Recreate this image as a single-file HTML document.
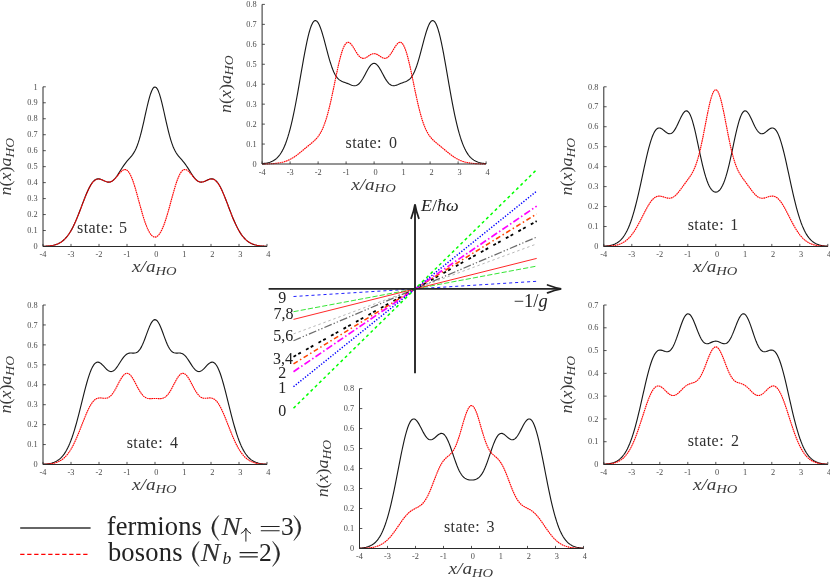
<!DOCTYPE html><html><head><meta charset="utf-8"><title>fig</title><style>
html,body{margin:0;padding:0;background:#fff;}
svg{display:block;will-change:transform}
text{font-family:"Liberation Serif",serif;fill:#2b2b2b}
.tk{font-size:8.3px;fill:#4a4a4a}
.lab{font-size:16px;font-style:italic;fill:#3a3a3a}
.lab .sub{font-size:12.2px}
.lab .up,.lab2 .up{font-style:normal}
.lab2{font-size:17px;font-style:italic;fill:#222}
.st{font-size:16px;fill:#303030}
.num{font-size:16px;fill:#222}
.leg{font-size:25.5px;fill:#222}
.leg.it{font-style:italic}
.leg .lsub{font-size:17.8px}
</style></head><body><svg width="830" height="578" viewBox="0 0 830 578"><g><path d="M262.1,163.62L263.22,163.52L264.34,163.39L265.46,163.24L266.58,163.05L267.7,162.82L268.82,162.54L269.94,162.21L271.06,161.8L272.18,161.32L273.3,160.74L274.42,160.06L275.54,159.26L276.66,158.32L277.78,157.22L278.9,155.94L280.02,154.47L281.14,152.78L282.26,150.86L283.38,148.67L284.5,146.2L285.62,143.44L286.74,140.36L287.86,136.95L288.98,133.19L290.1,129.09L291.22,124.64L292.34,119.84L293.46,114.7L294.58,109.25L295.7,103.51L296.82,97.51L297.94,91.3L299.06,84.93L300.18,78.47L301.3,71.97L302.42,65.53L303.54,59.2L304.66,53.09L305.78,47.28L306.9,41.85L308.02,36.89L309.14,32.48L310.26,28.68L311.38,25.56L312.5,23.17L313.62,21.54L314.74,20.68L315.86,20.61L316.98,21.29L318.1,22.7L319.22,24.78L320.34,27.46L321.46,30.66L322.58,34.28L323.7,38.22L324.82,42.38L325.94,46.64L327.06,50.91L328.18,55.08L329.3,59.06L330.42,62.79L331.54,66.2L332.66,69.25L333.78,71.92L334.9,74.2L336.02,76.1L337.14,77.65L338.26,78.89L339.38,79.86L340.5,80.61L341.62,81.2L342.74,81.69L343.86,82.12L344.98,82.52L346.1,82.94L347.22,83.37L348.34,83.83L349.46,84.3L350.58,84.76L351.7,85.17L352.82,85.5L353.94,85.69L355.06,85.69L356.18,85.48L357.3,85.01L358.42,84.26L359.54,83.22L360.66,81.89L361.78,80.3L362.9,78.49L364.02,76.5L365.14,74.41L366.26,72.29L367.38,70.23L368.5,68.31L369.62,66.61L370.74,65.2L371.86,64.15L372.98,63.51L374.1,63.3L375.22,63.54L376.34,64.21L377.46,65.28L378.58,66.7L379.7,68.42L380.82,70.35L381.94,72.42L383.06,74.54L384.18,76.63L385.3,78.6L386.42,80.41L387.54,81.98L388.66,83.29L389.78,84.31L390.9,85.05L392.02,85.5L393.14,85.7L394.26,85.68L395.38,85.48L396.5,85.15L397.62,84.74L398.74,84.28L399.86,83.8L400.98,83.35L402.1,82.91L403.22,82.5L404.34,82.09L405.46,81.66L406.58,81.17L407.7,80.57L408.82,79.8L409.94,78.82L411.06,77.57L412.18,76L413.3,74.07L414.42,71.77L415.54,69.07L416.66,66L417.78,62.57L418.9,58.82L420.02,54.82L421.14,50.64L422.26,46.37L423.38,42.11L424.5,37.97L425.62,34.04L426.74,30.44L427.86,27.27L428.98,24.63L430.1,22.59L431.22,21.23L432.34,20.59L433.46,20.71L434.58,21.62L435.7,23.3L436.82,25.73L437.94,28.9L439.06,32.73L440.18,37.18L441.3,42.18L442.42,47.63L443.54,53.47L444.66,59.59L445.78,65.93L446.9,72.38L448.02,78.87L449.14,85.34L450.26,91.69L451.38,97.89L452.5,103.87L453.62,109.6L454.74,115.03L455.86,120.15L456.98,124.92L458.1,129.36L459.22,133.44L460.34,137.17L461.46,140.56L462.58,143.62L463.7,146.37L464.82,148.81L465.94,150.98L467.06,152.89L468.18,154.57L469.3,156.03L470.42,157.29L471.54,158.38L472.66,159.31L473.78,160.11L474.9,160.78L476.02,161.35L477.14,161.83L478.26,162.23L479.38,162.56L480.5,162.84L481.62,163.06L482.74,163.25L483.86,163.4L484.98,163.52L486.1,163.62" fill="none" stroke="#181818" stroke-width="1.12" stroke-linejoin="round"/><path d="M262.1,163.95L263.22,163.94L264.34,163.92L265.46,163.9L266.58,163.87L267.7,163.84L268.82,163.81L269.94,163.76L271.06,163.71L272.18,163.64L273.3,163.57L274.42,163.48L275.54,163.37L276.66,163.24L277.78,163.1L278.9,162.93L280.02,162.73L281.14,162.51L282.26,162.25L283.38,161.96L284.5,161.63L285.62,161.27L286.74,160.86L287.86,160.4L288.98,159.9L290.1,159.35L291.22,158.76L292.34,158.12L293.46,157.43L294.58,156.7L295.7,155.92L296.82,155.11L297.94,154.26L299.06,153.39L300.18,152.49L301.3,151.57L302.42,150.65L303.54,149.71L304.66,148.78L305.78,147.85L306.9,146.93L308.02,146.01L309.14,145.1L310.26,144.19L311.38,143.27L312.5,142.32L313.62,141.34L314.74,140.29L315.86,139.16L316.98,137.91L318.1,136.52L319.22,134.95L320.34,133.16L321.46,131.12L322.58,128.79L323.7,126.14L324.82,123.16L325.94,119.82L327.06,116.11L328.18,112.04L329.3,107.62L330.42,102.88L331.54,97.87L332.66,92.63L333.78,87.24L334.9,81.78L336.02,76.34L337.14,71.01L338.26,65.9L339.38,61.09L340.5,56.69L341.62,52.78L342.74,49.43L343.86,46.69L344.98,44.61L346.1,43.18L347.22,42.41L348.34,42.26L349.46,42.68L350.58,43.59L351.7,44.9L352.82,46.52L353.94,48.32L355.06,50.2L356.18,52.06L357.3,53.79L358.42,55.31L359.54,56.56L360.66,57.5L361.78,58.09L362.9,58.35L364.02,58.29L365.14,57.97L366.26,57.43L367.38,56.75L368.5,56L369.62,55.26L370.74,54.6L371.86,54.09L372.98,53.76L374.1,53.66L375.22,53.78L376.34,54.12L377.46,54.64L378.58,55.31L379.7,56.05L380.82,56.79L381.94,57.47L383.06,57.99L384.18,58.3L385.3,58.34L386.42,58.06L387.54,57.45L388.66,56.49L389.78,55.22L390.9,53.69L392.02,51.94L393.14,50.08L394.26,48.2L395.38,46.41L396.5,44.81L397.62,43.52L398.74,42.64L399.86,42.26L400.98,42.44L402.1,43.25L403.22,44.72L404.34,46.84L405.46,49.62L406.58,53.01L407.7,56.95L408.82,61.38L409.94,66.21L411.06,71.34L412.18,76.68L413.3,82.13L414.42,87.58L415.54,92.97L416.66,98.19L417.78,103.19L418.9,107.91L420.02,112.31L421.14,116.35L422.26,120.04L423.38,123.36L424.5,126.32L425.62,128.94L426.74,131.25L427.86,133.28L428.98,135.05L430.1,136.61L431.22,138L432.34,139.23L433.46,140.36L434.58,141.4L435.7,142.38L436.82,143.32L437.94,144.25L439.06,145.16L440.18,146.07L441.3,146.99L442.42,147.91L443.54,148.84L444.66,149.77L445.78,150.7L446.9,151.63L448.02,152.55L449.14,153.44L450.26,154.32L451.38,155.16L452.5,155.97L453.62,156.74L454.74,157.47L455.86,158.16L456.98,158.8L458.1,159.39L459.22,159.93L460.34,160.43L461.46,160.88L462.58,161.29L463.7,161.66L464.82,161.98L465.94,162.27L467.06,162.52L468.18,162.75L469.3,162.94L470.42,163.11L471.54,163.25L472.66,163.38L473.78,163.48L474.9,163.57L476.02,163.65L477.14,163.71L478.26,163.76L479.38,163.81L480.5,163.85L481.62,163.88L482.74,163.9L483.86,163.92L484.98,163.94L486.1,163.95" fill="none" stroke="#ff0000" stroke-width="1.15" stroke-dasharray="1.65 0.55" stroke-linejoin="round"/><path d="M262.1,4.4 V164 H486.1" fill="none" stroke="#2a2a2a" stroke-width="1"/><path d="M262.1,164h2.8M262.1,144.05h2.8M262.1,124.1h2.8M262.1,104.15h2.8M262.1,84.2h2.8M262.1,64.25h2.8M262.1,44.3h2.8M262.1,24.35h2.8M262.1,4.4h2.8M262.1,164v-2.6M290.1,164v-2.6M318.1,164v-2.6M346.1,164v-2.6M374.1,164v-2.6M402.1,164v-2.6M430.1,164v-2.6M458.1,164v-2.6M486.1,164v-2.6" fill="none" stroke="#2a2a2a" stroke-width="0.8"/><text x="256.7" y="166.7" text-anchor="end" class="tk">0</text><text x="256.7" y="146.75" text-anchor="end" class="tk">0.1</text><text x="256.7" y="126.8" text-anchor="end" class="tk">0.2</text><text x="256.7" y="106.85" text-anchor="end" class="tk">0.3</text><text x="256.7" y="86.9" text-anchor="end" class="tk">0.4</text><text x="256.7" y="66.95" text-anchor="end" class="tk">0.5</text><text x="256.7" y="47" text-anchor="end" class="tk">0.6</text><text x="256.7" y="27.05" text-anchor="end" class="tk">0.7</text><text x="256.7" y="7.1" text-anchor="end" class="tk">0.8</text><text x="262.1" y="174.6" text-anchor="middle" class="tk">-4</text><text x="290.1" y="174.6" text-anchor="middle" class="tk">-3</text><text x="318.1" y="174.6" text-anchor="middle" class="tk">-2</text><text x="346.1" y="174.6" text-anchor="middle" class="tk">-1</text><text x="375.5" y="174.6" text-anchor="middle" class="tk">0</text><text x="403.5" y="174.6" text-anchor="middle" class="tk">1</text><text x="431.5" y="174.6" text-anchor="middle" class="tk">2</text><text x="459.5" y="174.6" text-anchor="middle" class="tk">3</text><text x="487.5" y="174.6" text-anchor="middle" class="tk">4</text><text x="351.2" y="189.5" class="lab" textLength="44.5" lengthAdjust="spacingAndGlyphs"><tspan>x/a</tspan><tspan class="sub" dy="2.6">HO</tspan></text><text transform="translate(230.5,84.2) rotate(-90)" x="-28.8" y="0" class="lab" textLength="57.6" lengthAdjust="spacingAndGlyphs"><tspan>n</tspan><tspan class="up">(</tspan><tspan>x</tspan><tspan class="up">)</tspan><tspan>a</tspan><tspan class="sub" dy="2.6">HO</tspan></text><text x="345.5" y="147.8" class="st" textLength="35.9" lengthAdjust="spacing">state:</text><text x="389" y="147.8" class="st">0</text></g>
<g><path d="M43,246.33L44.12,246.28L45.24,246.22L46.36,246.15L47.48,246.07L48.6,245.96L49.72,245.84L50.84,245.69L51.96,245.5L53.08,245.28L54.2,245.02L55.32,244.71L56.44,244.35L57.56,243.92L58.68,243.42L59.8,242.84L60.92,242.17L62.04,241.41L63.16,240.53L64.28,239.54L65.4,238.42L66.52,237.16L67.64,235.76L68.76,234.21L69.88,232.51L71,230.64L72.12,228.62L73.24,226.44L74.36,224.1L75.48,221.62L76.6,219.01L77.72,216.28L78.84,213.46L79.96,210.55L81.08,207.6L82.2,204.63L83.32,201.67L84.44,198.77L85.56,195.94L86.68,193.24L87.8,190.7L88.92,188.34L90.04,186.21L91.16,184.32L92.28,182.7L93.4,181.37L94.52,180.32L95.64,179.57L96.76,179.09L97.88,178.87L99,178.88L100.12,179.09L101.24,179.45L102.36,179.92L103.48,180.45L104.6,180.98L105.72,181.46L106.84,181.84L107.96,182.08L109.08,182.12L110.2,181.95L111.32,181.54L112.44,180.88L113.56,179.98L114.68,178.85L115.8,177.5L116.92,175.99L118.04,174.34L119.16,172.6L120.28,170.81L121.4,169.03L122.52,167.29L123.64,165.62L124.76,164.05L125.88,162.58L127,161.21L128.12,159.91L129.24,158.65L130.36,157.39L131.48,156.05L132.6,154.58L133.72,152.9L134.84,150.95L135.96,148.67L137.08,146L138.2,142.91L139.32,139.39L140.44,135.44L141.56,131.11L142.68,126.44L143.8,121.53L144.92,116.49L146.04,111.43L147.16,106.5L148.28,101.85L149.4,97.61L150.52,93.93L151.64,90.94L152.76,88.73L153.88,87.38L155,86.94L156.12,87.44L157.24,88.84L158.36,91.1L159.48,94.15L160.6,97.86L161.72,102.13L162.84,106.81L163.96,111.75L165.08,116.81L166.2,121.85L167.32,126.74L168.44,131.39L169.56,135.7L170.68,139.62L171.8,143.12L172.92,146.18L174.04,148.82L175.16,151.09L176.28,153.02L177.4,154.68L178.52,156.14L179.64,157.47L180.76,158.73L181.88,159.99L183,161.29L184.12,162.67L185.24,164.15L186.36,165.73L187.48,167.4L188.6,169.14L189.72,170.92L190.84,172.71L191.96,174.44L193.08,176.09L194.2,177.59L195.32,178.92L196.44,180.04L197.56,180.93L198.68,181.57L199.8,181.97L200.92,182.12L202.04,182.07L203.16,181.82L204.28,181.44L205.4,180.95L206.52,180.42L207.64,179.89L208.76,179.43L209.88,179.07L211,178.87L212.12,178.87L213.24,179.11L214.36,179.6L215.48,180.38L216.6,181.44L217.72,182.8L218.84,184.43L219.96,186.33L221.08,188.48L222.2,190.85L223.32,193.41L224.44,196.12L225.56,198.95L226.68,201.86L227.8,204.82L228.92,207.79L230.04,210.74L231.16,213.63L232.28,216.46L233.4,219.18L234.52,221.78L235.64,224.25L236.76,226.58L237.88,228.75L239,230.76L240.12,232.62L241.24,234.31L242.36,235.85L243.48,237.24L244.6,238.49L245.72,239.6L246.84,240.59L247.96,241.46L249.08,242.22L250.2,242.88L251.32,243.45L252.44,243.95L253.56,244.37L254.68,244.73L255.8,245.04L256.92,245.3L258.04,245.51L259.16,245.7L260.28,245.85L261.4,245.97L262.52,246.07L263.64,246.16L264.76,246.23L265.88,246.28L267,246.33" fill="none" stroke="#181818" stroke-width="1.12" stroke-linejoin="round"/><path d="M43,246.33L44.12,246.28L45.24,246.22L46.36,246.16L47.48,246.07L48.6,245.97L49.72,245.84L50.84,245.69L51.96,245.51L53.08,245.29L54.2,245.03L55.32,244.72L56.44,244.35L57.56,243.93L58.68,243.43L59.8,242.85L60.92,242.19L62.04,241.42L63.16,240.55L64.28,239.56L65.4,238.44L66.52,237.19L67.64,235.79L68.76,234.25L69.88,232.55L71,230.69L72.12,228.67L73.24,226.5L74.36,224.17L75.48,221.7L76.6,219.1L77.72,216.37L78.84,213.55L79.96,210.66L81.08,207.72L82.2,204.76L83.32,201.81L84.44,198.91L85.56,196.09L86.68,193.4L87.8,190.86L88.92,188.51L90.04,186.38L91.16,184.49L92.28,182.88L93.4,181.54L94.52,180.49L95.64,179.73L96.76,179.24L97.88,179.01L99,179.01L100.12,179.21L101.24,179.56L102.36,180.01L103.48,180.52L104.6,181.03L105.72,181.49L106.84,181.84L107.96,182.06L109.08,182.09L110.2,181.92L111.32,181.52L112.44,180.89L113.56,180.05L114.68,179L115.8,177.8L116.92,176.48L118.04,175.11L119.16,173.74L120.28,172.45L121.4,171.31L122.52,170.4L123.64,169.77L124.76,169.5L125.88,169.62L127,170.19L128.12,171.22L129.24,172.72L130.36,174.7L131.48,177.13L132.6,179.98L133.72,183.21L134.84,186.75L135.96,190.55L137.08,194.53L138.2,198.63L139.32,202.77L140.44,206.89L141.56,210.91L142.68,214.78L143.8,218.44L144.92,221.85L146.04,224.97L147.16,227.77L148.28,230.23L149.4,232.33L150.52,234.06L151.64,235.4L152.76,236.36L153.88,236.93L155,237.12L156.12,236.91L157.24,236.31L158.36,235.33L159.48,233.96L160.6,232.21L161.72,230.09L162.84,227.61L163.96,224.78L165.08,221.64L166.2,218.22L167.32,214.54L168.44,210.66L169.56,206.63L170.68,202.51L171.8,198.37L172.92,194.28L174.04,190.31L175.16,186.52L176.28,183L177.4,179.8L178.52,176.97L179.64,174.57L180.76,172.62L181.88,171.14L183,170.14L184.12,169.6L185.24,169.5L186.36,169.8L187.48,170.45L188.6,171.38L189.72,172.53L190.84,173.82L191.96,175.19L193.08,176.57L194.2,177.88L195.32,179.07L196.44,180.11L197.56,180.94L198.68,181.55L199.8,181.94L200.92,182.1L202.04,182.05L203.16,181.83L204.28,181.46L205.4,181L206.52,180.48L207.64,179.98L208.76,179.53L209.88,179.19L211,179.01L212.12,179.02L213.24,179.27L214.36,179.77L215.48,180.55L216.6,181.62L217.72,182.97L218.84,184.6L219.96,186.5L221.08,188.65L222.2,191.01L223.32,193.56L224.44,196.26L225.56,199.09L226.68,201.99L227.8,204.94L228.92,207.9L230.04,210.84L231.16,213.73L232.28,216.55L233.4,219.26L234.52,221.86L235.64,224.32L236.76,226.64L237.88,228.8L239,230.81L240.12,232.66L241.24,234.35L242.36,235.89L243.48,237.27L244.6,238.52L245.72,239.62L246.84,240.61L247.96,241.47L249.08,242.23L250.2,242.89L251.32,243.46L252.44,243.96L253.56,244.38L254.68,244.74L255.8,245.04L256.92,245.3L258.04,245.52L259.16,245.7L260.28,245.85L261.4,245.97L262.52,246.08L263.64,246.16L264.76,246.23L265.88,246.28L267,246.33" fill="none" stroke="#ff0000" stroke-width="1.15" stroke-dasharray="1.65 0.55" stroke-linejoin="round"/><path d="M43,86.8 V246.5 H267" fill="none" stroke="#2a2a2a" stroke-width="1"/><path d="M43,246.5h2.8M43,230.53h2.8M43,214.56h2.8M43,198.59h2.8M43,182.62h2.8M43,166.65h2.8M43,150.68h2.8M43,134.71h2.8M43,118.74h2.8M43,102.77h2.8M43,86.8h2.8M43,246.5v-2.6M71,246.5v-2.6M99,246.5v-2.6M127,246.5v-2.6M155,246.5v-2.6M183,246.5v-2.6M211,246.5v-2.6M239,246.5v-2.6M267,246.5v-2.6" fill="none" stroke="#2a2a2a" stroke-width="0.8"/><text x="37.6" y="249.2" text-anchor="end" class="tk">0</text><text x="37.6" y="233.23" text-anchor="end" class="tk">0.1</text><text x="37.6" y="217.26" text-anchor="end" class="tk">0.2</text><text x="37.6" y="201.29" text-anchor="end" class="tk">0.3</text><text x="37.6" y="185.32" text-anchor="end" class="tk">0.4</text><text x="37.6" y="169.35" text-anchor="end" class="tk">0.5</text><text x="37.6" y="153.38" text-anchor="end" class="tk">0.6</text><text x="37.6" y="137.41" text-anchor="end" class="tk">0.7</text><text x="37.6" y="121.44" text-anchor="end" class="tk">0.8</text><text x="37.6" y="105.47" text-anchor="end" class="tk">0.9</text><text x="37.6" y="89.5" text-anchor="end" class="tk">1</text><text x="43" y="257.1" text-anchor="middle" class="tk">-4</text><text x="71" y="257.1" text-anchor="middle" class="tk">-3</text><text x="99" y="257.1" text-anchor="middle" class="tk">-2</text><text x="127" y="257.1" text-anchor="middle" class="tk">-1</text><text x="156.4" y="257.1" text-anchor="middle" class="tk">0</text><text x="184.4" y="257.1" text-anchor="middle" class="tk">1</text><text x="212.4" y="257.1" text-anchor="middle" class="tk">2</text><text x="240.4" y="257.1" text-anchor="middle" class="tk">3</text><text x="268.4" y="257.1" text-anchor="middle" class="tk">4</text><text x="132.1" y="272" class="lab" textLength="44.5" lengthAdjust="spacingAndGlyphs"><tspan>x/a</tspan><tspan class="sub" dy="2.6">HO</tspan></text><text transform="translate(11.4,166.65) rotate(-90)" x="-28.8" y="0" class="lab" textLength="57.6" lengthAdjust="spacingAndGlyphs"><tspan>n</tspan><tspan class="up">(</tspan><tspan>x</tspan><tspan class="up">)</tspan><tspan>a</tspan><tspan class="sub" dy="2.6">HO</tspan></text><text x="77" y="233.4" class="st" textLength="35.9" lengthAdjust="spacing">state:</text><text x="119" y="233.4" class="st">5</text></g>
<g><path d="M43,464.23L44.12,464.16L45.24,464.08L46.36,463.97L47.48,463.84L48.6,463.68L49.72,463.49L50.84,463.26L51.96,462.98L53.08,462.64L54.2,462.24L55.32,461.77L56.44,461.21L57.56,460.56L58.68,459.8L59.8,458.91L60.92,457.89L62.04,456.72L63.16,455.38L64.28,453.87L65.4,452.16L66.52,450.24L67.64,448.1L68.76,445.74L69.88,443.13L71,440.29L72.12,437.2L73.24,433.87L74.36,430.3L75.48,426.52L76.6,422.53L77.72,418.36L78.84,414.05L79.96,409.62L81.08,405.11L82.2,400.59L83.32,396.08L84.44,391.65L85.56,387.36L86.68,383.25L87.8,379.39L88.92,375.83L90.04,372.61L91.16,369.78L92.28,367.38L93.4,365.42L94.52,363.92L95.64,362.89L96.76,362.3L97.88,362.14L99,362.36L100.12,362.92L101.24,363.76L102.36,364.8L103.48,365.97L104.6,367.2L105.72,368.39L106.84,369.48L107.96,370.4L109.08,371.09L110.2,371.49L111.32,371.57L112.44,371.31L113.56,370.72L114.68,369.81L115.8,368.61L116.92,367.17L118.04,365.55L119.16,363.81L120.28,362.03L121.4,360.28L122.52,358.62L123.64,357.13L124.76,355.84L125.88,354.8L127,354.01L128.12,353.47L129.24,353.16L130.36,353.03L131.48,353.03L132.6,353.09L133.72,353.13L134.84,353.06L135.96,352.8L137.08,352.27L138.2,351.43L139.32,350.21L140.44,348.61L141.56,346.62L142.68,344.27L143.8,341.61L144.92,338.71L146.04,335.68L147.16,332.6L148.28,329.62L149.4,326.84L150.52,324.38L151.64,322.35L152.76,320.83L153.88,319.91L155,319.6L156.12,319.95L157.24,320.91L158.36,322.46L159.48,324.52L160.6,327L161.72,329.8L162.84,332.79L163.96,335.87L165.08,338.9L166.2,341.78L167.32,344.43L168.44,346.76L169.56,348.72L170.68,350.3L171.8,351.49L172.92,352.31L174.04,352.82L175.16,353.06L176.28,353.13L177.4,353.09L178.52,353.03L179.64,353.04L180.76,353.17L181.88,353.5L183,354.05L184.12,354.86L185.24,355.92L186.36,357.22L187.48,358.72L188.6,360.38L189.72,362.14L190.84,363.92L191.96,365.65L193.08,367.27L194.2,368.7L195.32,369.88L196.44,370.77L197.56,371.34L198.68,371.57L199.8,371.47L200.92,371.05L202.04,370.35L203.16,369.42L204.28,368.32L205.4,367.12L206.52,365.9L207.64,364.73L208.76,363.7L209.88,362.88L211,362.34L212.12,362.14L213.24,362.32L214.36,362.94L215.48,364L216.6,365.53L217.72,367.51L218.84,369.95L219.96,372.8L221.08,376.04L222.2,379.62L223.32,383.5L224.44,387.62L225.56,391.92L226.68,396.36L227.8,400.87L228.92,405.4L230.04,409.9L231.16,414.32L232.28,418.63L233.4,422.78L234.52,426.76L235.64,430.53L236.76,434.08L237.88,437.4L239,440.47L240.12,443.3L241.24,445.89L242.36,448.24L243.48,450.37L244.6,452.27L245.72,453.97L246.84,455.47L247.96,456.8L249.08,457.96L250.2,458.97L251.32,459.85L252.44,460.6L253.56,461.25L254.68,461.8L255.8,462.27L256.92,462.66L258.04,463L259.16,463.27L260.28,463.5L261.4,463.69L262.52,463.85L263.64,463.98L264.76,464.08L265.88,464.17L267,464.24" fill="none" stroke="#181818" stroke-width="1.12" stroke-linejoin="round"/><path d="M43,464.33L44.12,464.29L45.24,464.23L46.36,464.17L47.48,464.08L48.6,463.98L49.72,463.86L50.84,463.71L51.96,463.54L53.08,463.32L54.2,463.07L55.32,462.77L56.44,462.42L57.56,462.01L58.68,461.52L59.8,460.97L60.92,460.32L62.04,459.58L63.16,458.73L64.28,457.77L65.4,456.69L66.52,455.48L67.64,454.13L68.76,452.63L69.88,450.98L71,449.18L72.12,447.23L73.24,445.12L74.36,442.86L75.48,440.47L76.6,437.94L77.72,435.3L78.84,432.57L79.96,429.76L81.08,426.9L82.2,424.03L83.32,421.16L84.44,418.34L85.56,415.6L86.68,412.96L87.8,410.48L88.92,408.17L90.04,406.06L91.16,404.18L92.28,402.55L93.4,401.17L94.52,400.05L95.64,399.19L96.76,398.57L97.88,398.17L99,397.97L100.12,397.91L101.24,397.96L102.36,398.08L103.48,398.2L104.6,398.27L105.72,398.25L106.84,398.08L107.96,397.72L109.08,397.13L110.2,396.3L111.32,395.21L112.44,393.86L113.56,392.27L114.68,390.46L115.8,388.48L116.92,386.38L118.04,384.23L119.16,382.09L120.28,380.04L121.4,378.14L122.52,376.48L123.64,375.11L124.76,374.09L125.88,373.46L127,373.24L128.12,373.45L129.24,374.07L130.36,375.08L131.48,376.45L132.6,378.11L133.72,380.01L134.84,382.07L135.96,384.22L137.08,386.38L138.2,388.49L139.32,390.47L140.44,392.28L141.56,393.88L142.68,395.24L143.8,396.34L144.92,397.2L146.04,397.82L147.16,398.24L148.28,398.48L149.4,398.6L150.52,398.62L151.64,398.59L152.76,398.54L153.88,398.5L155,398.49L156.12,398.5L157.24,398.54L158.36,398.59L159.48,398.62L160.6,398.59L161.72,398.47L162.84,398.22L163.96,397.79L165.08,397.15L166.2,396.28L167.32,395.16L168.44,393.79L169.56,392.18L170.68,390.35L171.8,388.36L172.92,386.25L174.04,384.09L175.16,381.94L176.28,379.88L177.4,378L178.52,376.35L179.64,375.01L180.76,374.02L181.88,373.42L183,373.24L184.12,373.48L185.24,374.14L186.36,375.19L187.48,376.57L188.6,378.25L189.72,380.16L190.84,382.22L191.96,384.37L193.08,386.52L194.2,388.61L195.32,390.58L196.44,392.37L197.56,393.95L198.68,395.29L199.8,396.36L200.92,397.18L202.04,397.75L203.16,398.09L204.28,398.25L205.4,398.27L206.52,398.19L207.64,398.07L208.76,397.96L209.88,397.91L211,397.97L212.12,398.19L213.24,398.6L214.36,399.24L215.48,400.12L216.6,401.25L217.72,402.64L218.84,404.29L219.96,406.19L221.08,408.31L222.2,410.63L223.32,413.12L224.44,415.76L225.56,418.51L226.68,421.34L227.8,424.21L228.92,427.08L230.04,429.94L231.16,432.74L232.28,435.47L233.4,438.1L234.52,440.62L235.64,443.01L236.76,445.26L237.88,447.35L239,449.3L240.12,451.09L241.24,452.73L242.36,454.22L243.48,455.56L244.6,456.76L245.72,457.84L246.84,458.79L247.96,459.63L249.08,460.36L250.2,461L251.32,461.56L252.44,462.03L253.56,462.44L254.68,462.79L255.8,463.09L256.92,463.34L258.04,463.55L259.16,463.72L260.28,463.87L261.4,463.99L262.52,464.09L263.64,464.17L264.76,464.24L265.88,464.29L267,464.33" fill="none" stroke="#ff0000" stroke-width="1.15" stroke-dasharray="1.65 0.55" stroke-linejoin="round"/><path d="M43,305 V464.5 H267" fill="none" stroke="#2a2a2a" stroke-width="1"/><path d="M43,464.5h2.8M43,444.56h2.8M43,424.62h2.8M43,404.69h2.8M43,384.75h2.8M43,364.81h2.8M43,344.88h2.8M43,324.94h2.8M43,305h2.8M43,464.5v-2.6M71,464.5v-2.6M99,464.5v-2.6M127,464.5v-2.6M155,464.5v-2.6M183,464.5v-2.6M211,464.5v-2.6M239,464.5v-2.6M267,464.5v-2.6" fill="none" stroke="#2a2a2a" stroke-width="0.8"/><text x="37.6" y="467.2" text-anchor="end" class="tk">0</text><text x="37.6" y="447.26" text-anchor="end" class="tk">0.1</text><text x="37.6" y="427.32" text-anchor="end" class="tk">0.2</text><text x="37.6" y="407.39" text-anchor="end" class="tk">0.3</text><text x="37.6" y="387.45" text-anchor="end" class="tk">0.4</text><text x="37.6" y="367.51" text-anchor="end" class="tk">0.5</text><text x="37.6" y="347.57" text-anchor="end" class="tk">0.6</text><text x="37.6" y="327.64" text-anchor="end" class="tk">0.7</text><text x="37.6" y="307.7" text-anchor="end" class="tk">0.8</text><text x="43" y="475.1" text-anchor="middle" class="tk">-4</text><text x="71" y="475.1" text-anchor="middle" class="tk">-3</text><text x="99" y="475.1" text-anchor="middle" class="tk">-2</text><text x="127" y="475.1" text-anchor="middle" class="tk">-1</text><text x="156.4" y="475.1" text-anchor="middle" class="tk">0</text><text x="184.4" y="475.1" text-anchor="middle" class="tk">1</text><text x="212.4" y="475.1" text-anchor="middle" class="tk">2</text><text x="240.4" y="475.1" text-anchor="middle" class="tk">3</text><text x="268.4" y="475.1" text-anchor="middle" class="tk">4</text><text x="132.1" y="490" class="lab" textLength="44.5" lengthAdjust="spacingAndGlyphs"><tspan>x/a</tspan><tspan class="sub" dy="2.6">HO</tspan></text><text transform="translate(11.4,384.75) rotate(-90)" x="-28.8" y="0" class="lab" textLength="57.6" lengthAdjust="spacingAndGlyphs"><tspan>n</tspan><tspan class="up">(</tspan><tspan>x</tspan><tspan class="up">)</tspan><tspan>a</tspan><tspan class="sub" dy="2.6">HO</tspan></text><text x="126.7" y="448.1" class="st" textLength="35.9" lengthAdjust="spacing">state:</text><text x="169.9" y="448.1" class="st">4</text></g>
<g><path d="M603.8,246.19L604.92,246.11L606.04,246.02L607.16,245.89L608.28,245.74L609.4,245.56L610.52,245.34L611.64,245.07L612.76,244.75L613.88,244.37L615,243.91L616.12,243.37L617.24,242.73L618.36,241.98L619.48,241.1L620.6,240.09L621.72,238.92L622.84,237.57L623.96,236.04L625.08,234.3L626.2,232.34L627.32,230.14L628.44,227.69L629.56,224.97L630.68,221.98L631.8,218.72L632.92,215.17L634.04,211.35L635.16,207.26L636.28,202.92L637.4,198.34L638.52,193.56L639.64,188.6L640.76,183.52L641.88,178.34L643,173.14L644.12,167.96L645.24,162.87L646.36,157.92L647.48,153.19L648.6,148.73L649.72,144.6L650.84,140.86L651.96,137.56L653.08,134.72L654.2,132.38L655.32,130.55L656.44,129.22L657.56,128.38L658.68,128L659.8,128.02L660.92,128.38L662.04,129.02L663.16,129.85L664.28,130.78L665.4,131.72L666.52,132.57L667.64,133.25L668.76,133.68L669.88,133.8L671,133.55L672.12,132.91L673.24,131.86L674.36,130.42L675.48,128.63L676.6,126.55L677.72,124.25L678.84,121.82L679.96,119.39L681.08,117.05L682.2,114.94L683.32,113.16L684.44,111.83L685.56,111.04L686.68,110.87L687.8,111.38L688.92,112.59L690.04,114.52L691.16,117.15L692.28,120.43L693.4,124.31L694.52,128.68L695.64,133.46L696.76,138.53L697.88,143.78L699,149.09L700.12,154.35L701.24,159.47L702.36,164.35L703.48,168.92L704.6,173.12L705.72,176.91L706.84,180.27L707.96,183.19L709.08,185.67L710.2,187.71L711.32,189.35L712.44,190.59L713.56,191.46L714.68,191.97L715.8,192.13L716.92,191.95L718.04,191.41L719.16,190.52L720.28,189.26L721.4,187.6L722.52,185.52L723.64,183.02L724.76,180.08L725.88,176.69L727,172.87L728.12,168.64L729.24,164.05L730.36,159.16L731.48,154.03L732.6,148.76L733.72,143.44L734.84,138.2L735.96,133.15L737.08,128.39L738.2,124.05L739.32,120.21L740.44,116.97L741.56,114.38L742.68,112.49L743.8,111.32L744.92,110.86L746.04,111.07L747.16,111.9L748.28,113.26L749.4,115.06L750.52,117.19L751.64,119.54L752.76,121.98L753.88,124.4L755,126.69L756.12,128.76L757.24,130.52L758.36,131.94L759.48,132.96L760.6,133.58L761.72,133.8L762.84,133.67L763.96,133.22L765.08,132.52L766.2,131.66L767.32,130.72L768.44,129.8L769.56,128.98L770.68,128.35L771.8,128L772.92,128.01L774.04,128.42L775.16,129.29L776.28,130.65L777.4,132.51L778.52,134.88L779.64,137.75L780.76,141.08L781.88,144.85L783,149L784.12,153.47L785.24,158.22L786.36,163.18L787.48,168.28L788.6,173.47L789.72,178.67L790.84,183.84L791.96,188.92L793.08,193.86L794.2,198.63L795.32,203.2L796.44,207.52L797.56,211.6L798.68,215.4L799.8,218.93L800.92,222.18L802.04,225.15L803.16,227.85L804.28,230.28L805.4,232.47L806.52,234.42L807.64,236.14L808.76,237.66L809.88,239L811,240.16L812.12,241.16L813.24,242.03L814.36,242.77L815.48,243.4L816.6,243.94L817.72,244.39L818.84,244.77L819.96,245.09L821.08,245.36L822.2,245.57L823.32,245.75L824.44,245.9L825.56,246.02L826.68,246.12L827.8,246.2" fill="none" stroke="#181818" stroke-width="1.12" stroke-linejoin="round"/><path d="M603.8,246.37L604.92,246.34L606.04,246.29L607.16,246.24L608.28,246.18L609.4,246.1L610.52,246.01L611.64,245.89L612.76,245.76L613.88,245.59L615,245.4L616.12,245.17L617.24,244.9L618.36,244.58L619.48,244.21L620.6,243.78L621.72,243.28L622.84,242.71L623.96,242.06L625.08,241.32L626.2,240.49L627.32,239.55L628.44,238.51L629.56,237.36L630.68,236.09L631.8,234.7L632.92,233.19L634.04,231.57L635.16,229.83L636.28,227.99L637.4,226.05L638.52,224.01L639.64,221.91L640.76,219.75L641.88,217.55L643,215.34L644.12,213.14L645.24,210.98L646.36,208.87L647.48,206.86L648.6,204.97L649.72,203.21L650.84,201.62L651.96,200.21L653.08,199L654.2,198.01L655.32,197.22L656.44,196.65L657.56,196.28L658.68,196.1L659.8,196.1L660.92,196.24L662.04,196.49L663.16,196.81L664.28,197.18L665.4,197.54L666.52,197.87L667.64,198.11L668.76,198.24L669.88,198.22L671,198.03L672.12,197.67L673.24,197.11L674.36,196.36L675.48,195.43L676.6,194.33L677.72,193.09L678.84,191.73L679.96,190.28L681.08,188.78L682.2,187.24L683.32,185.7L684.44,184.17L685.56,182.65L686.68,181.13L687.8,179.62L688.92,178.07L690.04,176.45L691.16,174.71L692.28,172.8L693.4,170.65L694.52,168.21L695.64,165.43L696.76,162.25L697.88,158.64L699,154.59L700.12,150.1L701.24,145.19L702.36,139.92L703.48,134.35L704.6,128.59L705.72,122.76L706.84,116.98L707.96,111.4L709.08,106.18L710.2,101.46L711.32,97.39L712.44,94.08L713.56,91.65L714.68,90.17L715.8,89.7L716.92,90.24L718.04,91.78L719.16,94.26L720.28,97.62L721.4,101.74L722.52,106.5L723.64,111.74L724.76,117.34L725.88,123.12L727,128.96L728.12,134.71L729.24,140.26L730.36,145.51L731.48,150.39L732.6,154.86L733.72,158.88L734.84,162.46L735.96,165.61L737.08,168.37L738.2,170.79L739.32,172.92L740.44,174.82L741.56,176.55L742.68,178.17L743.8,179.71L744.92,181.23L746.04,182.74L747.16,184.26L748.28,185.8L749.4,187.34L750.52,188.87L751.64,190.38L752.76,191.82L753.88,193.17L755,194.4L756.12,195.49L757.24,196.41L758.36,197.15L759.48,197.7L760.6,198.05L761.72,198.22L762.84,198.23L763.96,198.1L765.08,197.85L766.2,197.52L767.32,197.16L768.44,196.79L769.56,196.47L770.68,196.22L771.8,196.09L772.92,196.11L774.04,196.3L775.16,196.68L776.28,197.26L777.4,198.06L778.52,199.07L779.64,200.3L780.76,201.71L781.88,203.32L783,205.08L784.12,206.98L785.24,209L786.36,211.11L787.48,213.28L788.6,215.48L789.72,217.69L790.84,219.89L791.96,222.04L793.08,224.14L794.2,226.17L795.32,228.11L796.44,229.95L797.56,231.68L798.68,233.29L799.8,234.79L800.92,236.17L802.04,237.43L803.16,238.58L804.28,239.61L805.4,240.54L806.52,241.37L807.64,242.1L808.76,242.75L809.88,243.31L811,243.81L812.12,244.23L813.24,244.6L814.36,244.92L815.48,245.19L816.6,245.41L817.72,245.61L818.84,245.77L819.96,245.9L821.08,246.01L822.2,246.11L823.32,246.18L824.44,246.25L825.56,246.3L826.68,246.34L827.8,246.37" fill="none" stroke="#ff0000" stroke-width="1.15" stroke-dasharray="1.65 0.55" stroke-linejoin="round"/><path d="M603.8,86.8 V246.5 H827.8" fill="none" stroke="#2a2a2a" stroke-width="1"/><path d="M603.8,246.5h2.8M603.8,226.54h2.8M603.8,206.57h2.8M603.8,186.61h2.8M603.8,166.65h2.8M603.8,146.69h2.8M603.8,126.72h2.8M603.8,106.76h2.8M603.8,86.8h2.8M603.8,246.5v-2.6M631.8,246.5v-2.6M659.8,246.5v-2.6M687.8,246.5v-2.6M715.8,246.5v-2.6M743.8,246.5v-2.6M771.8,246.5v-2.6M799.8,246.5v-2.6M827.8,246.5v-2.6" fill="none" stroke="#2a2a2a" stroke-width="0.8"/><text x="598.4" y="249.2" text-anchor="end" class="tk">0</text><text x="598.4" y="229.24" text-anchor="end" class="tk">0.1</text><text x="598.4" y="209.27" text-anchor="end" class="tk">0.2</text><text x="598.4" y="189.31" text-anchor="end" class="tk">0.3</text><text x="598.4" y="169.35" text-anchor="end" class="tk">0.4</text><text x="598.4" y="149.39" text-anchor="end" class="tk">0.5</text><text x="598.4" y="129.42" text-anchor="end" class="tk">0.6</text><text x="598.4" y="109.46" text-anchor="end" class="tk">0.7</text><text x="598.4" y="89.5" text-anchor="end" class="tk">0.8</text><text x="603.8" y="257.1" text-anchor="middle" class="tk">-4</text><text x="631.8" y="257.1" text-anchor="middle" class="tk">-3</text><text x="659.8" y="257.1" text-anchor="middle" class="tk">-2</text><text x="687.8" y="257.1" text-anchor="middle" class="tk">-1</text><text x="717.2" y="257.1" text-anchor="middle" class="tk">0</text><text x="745.2" y="257.1" text-anchor="middle" class="tk">1</text><text x="773.2" y="257.1" text-anchor="middle" class="tk">2</text><text x="801.2" y="257.1" text-anchor="middle" class="tk">3</text><text x="829.2" y="257.1" text-anchor="middle" class="tk">4</text><text x="692.9" y="272" class="lab" textLength="44.5" lengthAdjust="spacingAndGlyphs"><tspan>x/a</tspan><tspan class="sub" dy="2.6">HO</tspan></text><text transform="translate(572.2,166.65) rotate(-90)" x="-28.8" y="0" class="lab" textLength="57.6" lengthAdjust="spacingAndGlyphs"><tspan>n</tspan><tspan class="up">(</tspan><tspan>x</tspan><tspan class="up">)</tspan><tspan>a</tspan><tspan class="sub" dy="2.6">HO</tspan></text><text x="687.7" y="230" class="st" textLength="35.9" lengthAdjust="spacing">state:</text><text x="730.2" y="230" class="st">1</text></g>
<g><path d="M603.8,464.21L604.92,464.13L606.04,464.04L607.16,463.92L608.28,463.78L609.4,463.61L610.52,463.39L611.64,463.14L612.76,462.83L613.88,462.47L615,462.03L616.12,461.51L617.24,460.9L618.36,460.19L619.48,459.35L620.6,458.38L621.72,457.27L622.84,455.99L623.96,454.52L625.08,452.86L626.2,450.99L627.32,448.89L628.44,446.56L629.56,443.97L630.68,441.11L631.8,438L632.92,434.62L634.04,430.97L635.16,427.07L636.28,422.92L637.4,418.56L638.52,413.99L639.64,409.26L640.76,404.41L641.88,399.47L643,394.49L644.12,389.54L645.24,384.67L646.36,379.93L647.48,375.39L648.6,371.1L649.72,367.12L650.84,363.5L651.96,360.28L653.08,357.49L654.2,355.16L655.32,353.28L656.44,351.86L657.56,350.87L658.68,350.28L659.8,350.04L660.92,350.08L662.04,350.33L663.16,350.71L664.28,351.13L665.4,351.5L666.52,351.72L667.64,351.71L668.76,351.4L669.88,350.74L671,349.66L672.12,348.16L673.24,346.22L674.36,343.88L675.48,341.16L676.6,338.15L677.72,334.92L678.84,331.57L679.96,328.21L681.08,324.97L682.2,321.96L683.32,319.28L684.44,317.05L685.56,315.35L686.68,314.24L687.8,313.76L688.92,313.93L690.04,314.72L691.16,316.09L692.28,317.98L693.4,320.3L694.52,322.94L695.64,325.78L696.76,328.7L697.88,331.58L699,334.3L700.12,336.79L701.24,338.94L702.36,340.71L703.48,342.07L704.6,343.02L705.72,343.56L706.84,343.76L707.96,343.66L709.08,343.34L710.2,342.88L711.32,342.37L712.44,341.88L713.56,341.48L714.68,341.22L715.8,341.13L716.92,341.23L718.04,341.5L719.16,341.91L720.28,342.4L721.4,342.91L722.52,343.36L723.64,343.67L724.76,343.75L725.88,343.54L727,342.97L728.12,342L729.24,340.61L730.36,338.82L731.48,336.64L732.6,334.14L733.72,331.4L734.84,328.51L735.96,325.6L737.08,322.77L738.2,320.15L739.32,317.85L740.44,315.99L741.56,314.65L742.68,313.9L743.8,313.78L744.92,314.29L746.04,315.44L747.16,317.18L748.28,319.44L749.4,322.14L750.52,325.17L751.64,328.42L752.76,331.78L753.88,335.12L755,338.35L756.12,341.34L757.24,344.03L758.36,346.36L759.48,348.26L760.6,349.74L761.72,350.79L762.84,351.43L763.96,351.72L765.08,351.71L766.2,351.48L767.32,351.11L768.44,350.69L769.56,350.31L770.68,350.07L771.8,350.05L772.92,350.31L774.04,350.92L775.16,351.94L776.28,353.39L777.4,355.29L778.52,357.66L779.64,360.47L780.76,363.72L781.88,367.36L783,371.36L784.12,375.67L785.24,380.22L786.36,384.97L787.48,389.85L788.6,394.81L789.72,399.78L790.84,404.71L791.96,409.56L793.08,414.28L794.2,418.84L795.32,423.19L796.44,427.32L797.56,431.21L798.68,434.84L799.8,438.2L800.92,441.3L802.04,444.13L803.16,446.71L804.28,449.03L805.4,451.12L806.52,452.97L807.64,454.62L808.76,456.07L809.88,457.34L811,458.45L812.12,459.41L813.24,460.23L814.36,460.94L815.48,461.55L816.6,462.06L817.72,462.49L818.84,462.85L819.96,463.16L821.08,463.41L822.2,463.62L823.32,463.79L824.44,463.93L825.56,464.04L826.68,464.14L827.8,464.21" fill="none" stroke="#181818" stroke-width="1.12" stroke-linejoin="round"/><path d="M603.8,464.29L604.92,464.24L606.04,464.17L607.16,464.09L608.28,463.99L609.4,463.87L610.52,463.72L611.64,463.54L612.76,463.32L613.88,463.07L615,462.76L616.12,462.39L617.24,461.96L618.36,461.46L619.48,460.87L620.6,460.19L621.72,459.4L622.84,458.5L623.96,457.47L625.08,456.3L626.2,454.98L627.32,453.5L628.44,451.85L629.56,450.03L630.68,448.02L631.8,445.82L632.92,443.44L634.04,440.87L635.16,438.12L636.28,435.2L637.4,432.12L638.52,428.91L639.64,425.58L640.76,422.17L641.88,418.7L643,415.2L644.12,411.73L645.24,408.32L646.36,405.01L647.48,401.86L648.6,398.89L649.72,396.15L650.84,393.69L651.96,391.53L653.08,389.71L654.2,388.23L655.32,387.12L656.44,386.37L657.56,385.98L658.68,385.93L659.8,386.19L660.92,386.73L662.04,387.49L663.16,388.43L664.28,389.49L665.4,390.61L666.52,391.73L667.64,392.79L668.76,393.73L669.88,394.52L671,395.1L672.12,395.45L673.24,395.55L674.36,395.4L675.48,395.01L676.6,394.39L677.72,393.57L678.84,392.61L679.96,391.53L681.08,390.39L682.2,389.24L683.32,388.12L684.44,387.08L685.56,386.14L686.68,385.33L687.8,384.66L688.92,384.12L690.04,383.68L691.16,383.32L692.28,382.99L693.4,382.65L694.52,382.22L695.64,381.65L696.76,380.89L697.88,379.89L699,378.6L700.12,377L701.24,375.09L702.36,372.86L703.48,370.37L704.6,367.64L705.72,364.77L706.84,361.81L707.96,358.88L709.08,356.06L710.2,353.47L711.32,351.2L712.44,349.33L713.56,347.95L714.68,347.1L715.8,346.83L716.92,347.14L718.04,348.02L719.16,349.44L720.28,351.33L721.4,353.63L722.52,356.24L723.64,359.06L724.76,362L725.88,364.95L727,367.82L728.12,370.53L729.24,373.01L730.36,375.21L731.48,377.11L732.6,378.69L733.72,379.96L734.84,380.95L735.96,381.69L737.08,382.25L738.2,382.67L739.32,383.01L740.44,383.34L741.56,383.7L742.68,384.15L743.8,384.7L744.92,385.38L746.04,386.2L747.16,387.14L748.28,388.19L749.4,389.31L750.52,390.46L751.64,391.6L752.76,392.67L753.88,393.63L755,394.43L756.12,395.04L757.24,395.42L758.36,395.55L759.48,395.43L760.6,395.07L761.72,394.47L762.84,393.68L763.96,392.73L765.08,391.66L766.2,390.54L767.32,389.42L768.44,388.37L769.56,387.44L770.68,386.68L771.8,386.17L772.92,385.92L774.04,386L775.16,386.41L776.28,387.18L777.4,388.31L778.52,389.81L779.64,391.66L780.76,393.84L781.88,396.32L783,399.07L784.12,402.05L785.24,405.22L786.36,408.53L787.48,411.95L788.6,415.42L789.72,418.91L790.84,422.38L791.96,425.79L793.08,429.12L794.2,432.32L795.32,435.39L796.44,438.3L797.56,441.03L798.68,443.59L799.8,445.96L800.92,448.15L802.04,450.14L803.16,451.96L804.28,453.6L805.4,455.07L806.52,456.38L807.64,457.54L808.76,458.56L809.88,459.45L811,460.23L812.12,460.91L813.24,461.49L814.36,461.99L815.48,462.42L816.6,462.78L817.72,463.08L818.84,463.34L819.96,463.55L821.08,463.73L822.2,463.88L823.32,464L824.44,464.1L825.56,464.18L826.68,464.24L827.8,464.3" fill="none" stroke="#ff0000" stroke-width="1.15" stroke-dasharray="1.65 0.55" stroke-linejoin="round"/><path d="M603.8,305 V464.5 H827.8" fill="none" stroke="#2a2a2a" stroke-width="1"/><path d="M603.8,464.5h2.8M603.8,441.71h2.8M603.8,418.93h2.8M603.8,396.14h2.8M603.8,373.36h2.8M603.8,350.57h2.8M603.8,327.79h2.8M603.8,305h2.8M603.8,464.5v-2.6M631.8,464.5v-2.6M659.8,464.5v-2.6M687.8,464.5v-2.6M715.8,464.5v-2.6M743.8,464.5v-2.6M771.8,464.5v-2.6M799.8,464.5v-2.6M827.8,464.5v-2.6" fill="none" stroke="#2a2a2a" stroke-width="0.8"/><text x="598.4" y="467.2" text-anchor="end" class="tk">0</text><text x="598.4" y="444.41" text-anchor="end" class="tk">0.1</text><text x="598.4" y="421.63" text-anchor="end" class="tk">0.2</text><text x="598.4" y="398.84" text-anchor="end" class="tk">0.3</text><text x="598.4" y="376.06" text-anchor="end" class="tk">0.4</text><text x="598.4" y="353.27" text-anchor="end" class="tk">0.5</text><text x="598.4" y="330.49" text-anchor="end" class="tk">0.6</text><text x="598.4" y="307.7" text-anchor="end" class="tk">0.7</text><text x="603.8" y="475.1" text-anchor="middle" class="tk">-4</text><text x="631.8" y="475.1" text-anchor="middle" class="tk">-3</text><text x="659.8" y="475.1" text-anchor="middle" class="tk">-2</text><text x="687.8" y="475.1" text-anchor="middle" class="tk">-1</text><text x="717.2" y="475.1" text-anchor="middle" class="tk">0</text><text x="745.2" y="475.1" text-anchor="middle" class="tk">1</text><text x="773.2" y="475.1" text-anchor="middle" class="tk">2</text><text x="801.2" y="475.1" text-anchor="middle" class="tk">3</text><text x="829.2" y="475.1" text-anchor="middle" class="tk">4</text><text x="692.9" y="490" class="lab" textLength="44.5" lengthAdjust="spacingAndGlyphs"><tspan>x/a</tspan><tspan class="sub" dy="2.6">HO</tspan></text><text transform="translate(572.2,384.75) rotate(-90)" x="-28.8" y="0" class="lab" textLength="57.6" lengthAdjust="spacingAndGlyphs"><tspan>n</tspan><tspan class="up">(</tspan><tspan>x</tspan><tspan class="up">)</tspan><tspan>a</tspan><tspan class="sub" dy="2.6">HO</tspan></text><text x="687.7" y="445.5" class="st" textLength="35.9" lengthAdjust="spacing">state:</text><text x="730.9" y="445.5" class="st">2</text></g>
<g><path d="M359.5,548.16L360.62,548.07L361.74,547.96L362.86,547.82L363.98,547.66L365.1,547.46L366.22,547.21L367.34,546.91L368.46,546.55L369.58,546.12L370.7,545.61L371.82,545.01L372.94,544.3L374.06,543.46L375.18,542.49L376.3,541.36L377.42,540.05L378.54,538.56L379.66,536.85L380.78,534.91L381.9,532.72L383.02,530.27L384.14,527.54L385.26,524.52L386.38,521.19L387.5,517.55L388.62,513.6L389.74,509.35L390.86,504.79L391.98,499.96L393.1,494.86L394.22,489.54L395.34,484.03L396.46,478.37L397.58,472.62L398.7,466.85L399.82,461.1L400.94,455.46L402.06,449.99L403.18,444.77L404.3,439.87L405.42,435.37L406.54,431.32L407.66,427.78L408.78,424.8L409.9,422.41L411.02,420.64L412.14,419.49L413.26,418.95L414.38,418.99L415.5,419.57L416.62,420.63L417.74,422.1L418.86,423.89L419.98,425.91L421.1,428.07L422.22,430.26L423.34,432.39L424.46,434.37L425.58,436.13L426.7,437.58L427.82,438.69L428.94,439.43L430.06,439.79L431.18,439.78L432.3,439.44L433.42,438.81L434.54,437.97L435.66,437L436.78,435.99L437.9,435.03L439.02,434.21L440.14,433.64L441.26,433.37L442.38,433.49L443.5,434.03L444.62,435.03L445.74,436.48L446.86,438.38L447.98,440.68L449.1,443.35L450.22,446.31L451.34,449.47L452.46,452.76L453.58,456.1L454.7,459.38L455.82,462.54L456.94,465.5L458.06,468.22L459.18,470.65L460.3,472.76L461.42,474.55L462.54,476.03L463.66,477.22L464.78,478.13L465.9,478.82L467.02,479.31L468.14,479.65L469.26,479.86L470.38,479.98L471.5,480.01L472.62,479.97L473.74,479.85L474.86,479.63L475.98,479.29L477.1,478.78L478.22,478.08L479.34,477.15L480.46,475.95L481.58,474.45L482.7,472.64L483.82,470.5L484.94,468.06L486.06,465.32L487.18,462.35L488.3,459.18L489.42,455.89L490.54,452.56L491.66,449.27L492.78,446.11L493.9,443.17L495.02,440.53L496.14,438.25L497.26,436.37L498.38,434.95L499.5,433.98L500.62,433.47L501.74,433.38L502.86,433.66L503.98,434.26L505.1,435.08L506.22,436.05L507.34,437.06L508.46,438.03L509.58,438.86L510.7,439.47L511.82,439.79L512.94,439.78L514.06,439.4L515.18,438.63L516.3,437.5L517.42,436.02L518.54,434.26L519.66,432.27L520.78,430.13L521.9,427.93L523.02,425.78L524.14,423.77L525.26,422L526.38,420.55L527.5,419.52L528.62,418.97L529.74,418.97L530.86,419.55L531.98,420.74L533.1,422.54L534.22,424.97L535.34,427.98L536.46,431.55L537.58,435.64L538.7,440.17L539.82,445.09L540.94,450.32L542.06,455.8L543.18,461.46L544.3,467.21L545.42,472.99L546.54,478.73L547.66,484.38L548.78,489.88L549.9,495.19L551.02,500.27L552.14,505.09L553.26,509.62L554.38,513.86L555.5,517.79L556.62,521.41L557.74,524.72L558.86,527.72L559.98,530.44L561.1,532.87L562.22,535.04L563.34,536.96L564.46,538.66L565.58,540.14L566.7,541.43L567.82,542.55L568.94,543.52L570.06,544.35L571.18,545.05L572.3,545.65L573.42,546.15L574.54,546.58L575.66,546.93L576.78,547.23L577.9,547.47L579.02,547.67L580.14,547.83L581.26,547.97L582.38,548.08L583.5,548.17" fill="none" stroke="#181818" stroke-width="1.12" stroke-linejoin="round"/><path d="M359.5,548.4L360.62,548.38L361.74,548.35L362.86,548.31L363.98,548.26L365.1,548.21L366.22,548.14L367.34,548.05L368.46,547.95L369.58,547.83L370.7,547.69L371.82,547.52L372.94,547.32L374.06,547.09L375.18,546.81L376.3,546.5L377.42,546.13L378.54,545.71L379.66,545.23L380.78,544.69L381.9,544.07L383.02,543.39L384.14,542.62L385.26,541.77L386.38,540.84L387.5,539.82L388.62,538.71L389.74,537.51L390.86,536.23L391.98,534.87L393.1,533.44L394.22,531.94L395.34,530.38L396.46,528.78L397.58,527.15L398.7,525.51L399.82,523.86L400.94,522.24L402.06,520.65L403.18,519.11L404.3,517.64L405.42,516.26L406.54,514.98L407.66,513.8L408.78,512.73L409.9,511.77L411.02,510.92L412.14,510.17L413.26,509.5L414.38,508.9L415.5,508.33L416.62,507.78L417.74,507.2L418.86,506.57L419.98,505.84L421.1,504.99L422.22,503.97L423.34,502.76L424.46,501.34L425.58,499.69L426.7,497.8L427.82,495.68L428.94,493.33L430.06,490.79L431.18,488.07L432.3,485.23L433.42,482.31L434.54,479.36L435.66,476.44L436.78,473.61L437.9,470.91L439.02,468.4L440.14,466.11L441.26,464.06L442.38,462.26L443.5,460.71L444.62,459.38L445.74,458.24L446.86,457.23L447.98,456.3L449.1,455.36L450.22,454.34L451.34,453.17L452.46,451.77L453.58,450.08L454.7,448.06L455.82,445.68L456.94,442.92L458.06,439.81L459.18,436.39L460.3,432.71L461.42,428.87L462.54,424.97L463.66,421.13L464.78,417.46L465.9,414.1L467.02,411.17L468.14,408.76L469.26,406.98L470.38,405.9L471.5,405.55L472.62,405.94L473.74,407.08L474.86,408.9L475.98,411.34L477.1,414.3L478.22,417.69L479.34,421.37L480.46,425.22L481.58,429.12L482.7,432.95L483.82,436.61L484.94,440.02L486.06,443.11L487.18,445.84L488.3,448.2L489.42,450.2L490.54,451.87L491.66,453.25L492.78,454.41L493.9,455.42L495.02,456.35L496.14,457.29L497.26,458.31L498.38,459.46L499.5,460.8L500.62,462.37L501.74,464.18L502.86,466.25L503.98,468.55L505.1,471.08L506.22,473.78L507.34,476.62L508.46,479.54L509.58,482.49L510.7,485.41L511.82,488.24L512.94,490.95L514.06,493.49L515.18,495.82L516.3,497.93L517.42,499.8L518.54,501.44L519.66,502.84L520.78,504.04L521.9,505.04L523.02,505.89L524.14,506.61L525.26,507.24L526.38,507.81L527.5,508.37L528.62,508.93L529.74,509.54L530.86,510.21L531.98,510.97L533.1,511.83L534.22,512.79L535.34,513.87L536.46,515.05L537.58,516.35L538.7,517.73L539.82,519.21L540.94,520.74L542.06,522.34L543.18,523.96L544.3,525.61L545.42,527.25L546.54,528.88L547.66,530.48L548.78,532.03L549.9,533.53L551.02,534.96L552.14,536.31L553.26,537.59L554.38,538.78L555.5,539.88L556.62,540.9L557.74,541.83L558.86,542.67L559.98,543.43L561.1,544.12L562.22,544.72L563.34,545.26L564.46,545.74L565.58,546.16L566.7,546.52L567.82,546.83L568.94,547.1L570.06,547.33L571.18,547.53L572.3,547.7L573.42,547.84L574.54,547.96L575.66,548.06L576.78,548.14L577.9,548.21L579.02,548.27L580.14,548.31L581.26,548.35L582.38,548.38L583.5,548.41" fill="none" stroke="#ff0000" stroke-width="1.15" stroke-dasharray="1.65 0.55" stroke-linejoin="round"/><path d="M359.5,388.6 V548.5 H583.5" fill="none" stroke="#2a2a2a" stroke-width="1"/><path d="M359.5,548.5h2.8M359.5,528.51h2.8M359.5,508.52h2.8M359.5,488.54h2.8M359.5,468.55h2.8M359.5,448.56h2.8M359.5,428.57h2.8M359.5,408.59h2.8M359.5,388.6h2.8M359.5,548.5v-2.6M387.5,548.5v-2.6M415.5,548.5v-2.6M443.5,548.5v-2.6M471.5,548.5v-2.6M499.5,548.5v-2.6M527.5,548.5v-2.6M555.5,548.5v-2.6M583.5,548.5v-2.6" fill="none" stroke="#2a2a2a" stroke-width="0.8"/><text x="354.1" y="551.2" text-anchor="end" class="tk">0</text><text x="354.1" y="531.21" text-anchor="end" class="tk">0.1</text><text x="354.1" y="511.22" text-anchor="end" class="tk">0.2</text><text x="354.1" y="491.24" text-anchor="end" class="tk">0.3</text><text x="354.1" y="471.25" text-anchor="end" class="tk">0.4</text><text x="354.1" y="451.26" text-anchor="end" class="tk">0.5</text><text x="354.1" y="431.27" text-anchor="end" class="tk">0.6</text><text x="354.1" y="411.29" text-anchor="end" class="tk">0.7</text><text x="354.1" y="391.3" text-anchor="end" class="tk">0.8</text><text x="359.5" y="559.1" text-anchor="middle" class="tk">-4</text><text x="387.5" y="559.1" text-anchor="middle" class="tk">-3</text><text x="415.5" y="559.1" text-anchor="middle" class="tk">-2</text><text x="443.5" y="559.1" text-anchor="middle" class="tk">-1</text><text x="472.9" y="559.1" text-anchor="middle" class="tk">0</text><text x="500.9" y="559.1" text-anchor="middle" class="tk">1</text><text x="528.9" y="559.1" text-anchor="middle" class="tk">2</text><text x="556.9" y="559.1" text-anchor="middle" class="tk">3</text><text x="584.9" y="559.1" text-anchor="middle" class="tk">4</text><text x="448.6" y="574" class="lab" textLength="44.5" lengthAdjust="spacingAndGlyphs"><tspan>x/a</tspan><tspan class="sub" dy="2.6">HO</tspan></text><text transform="translate(327.9,468.55) rotate(-90)" x="-28.8" y="0" class="lab" textLength="57.6" lengthAdjust="spacingAndGlyphs"><tspan>n</tspan><tspan class="up">(</tspan><tspan>x</tspan><tspan class="up">)</tspan><tspan>a</tspan><tspan class="sub" dy="2.6">HO</tspan></text><text x="443.9" y="531.6" class="st" textLength="35.9" lengthAdjust="spacing">state:</text><text x="486.4" y="531.6" class="st">3</text></g>
<g><path d="M293.5,296.5 L536.7,281.3" stroke="#2020ff" stroke-width="1.0" stroke-dasharray="3.1 2.9" fill="none"/><path d="M293.5,311.7 L536.7,266.1" stroke="#10e010" stroke-width="0.85" stroke-dasharray="5.2 2.1" fill="none"/><path d="M293.5,319.4 L536.7,258.4" stroke="#ff1010" stroke-width="0.9" fill="none"/><path d="M293.5,333.9 L536.7,243.9" stroke="#909090" stroke-width="0.65" stroke-dasharray="2.5 2.8" fill="none"/><path d="M293.5,340.7 L536.7,237.1" stroke="#6a6a6a" stroke-width="1.25" stroke-dasharray="7.9 2.1 1.3 2.1 1.3 2.1" fill="none"/><path d="M293.5,356.7 L536.7,221.1" stroke="#000000" stroke-width="1.8" stroke-dasharray="3 2.4 3 5.9" fill="none"/><path d="M293.5,363.9 L536.7,213.9" stroke="#ff4500" stroke-width="1.6" stroke-dasharray="4.9 2.75 1.5 2.75" fill="none"/><path d="M293.5,371.7 L536.7,206.1" stroke="#ff00ff" stroke-width="1.7" stroke-dasharray="6.9 2.45 1.5 2.45" fill="none"/><path d="M293.5,386.7 L536.7,191.1" stroke="#0000ff" stroke-width="1.45" stroke-dasharray="1.3 1.65" fill="none"/><path d="M293.5,408.2 L536.7,169.6" stroke="#00ff00" stroke-width="1.5" stroke-dasharray="3 3" fill="none"/><path d="M268.6,288.9 H560.2" stroke="#262626" stroke-width="1.9" fill="none"/><path d="M415.0,373.2 V204.8" stroke="#262626" stroke-width="1.9" fill="none"/><path d="M547.6,285 Q554.5,287.6 561.2,288.9 Q554.5,290.2 547.6,292.8 M411.2,218.2 Q413.9,211.2 415.0,204.4 Q416.1,211.2 418.8,218.2" stroke="#202020" stroke-width="1.8" fill="none" stroke-linecap="round" stroke-linejoin="miter"/><text x="421" y="210.5" class="lab2" style="font-size:17.5px" textLength="37.6" lengthAdjust="spacingAndGlyphs"><tspan>E</tspan><tspan class="up">/</tspan><tspan>ħω</tspan></text><text x="513.7" y="306.8" class="lab2" style="font-size:18px" textLength="34" lengthAdjust="spacingAndGlyphs"><tspan class="up">−1/</tspan><tspan>g</tspan></text><text x="278.2" y="303.3" class="num">9</text><text x="273.4" y="319.2" class="num">7,8</text><text x="273.2" y="341.3" class="num">5,6</text><text x="273.0" y="363.8" class="num">3,4</text><text x="278.2" y="377.8" class="num">2</text><text x="278.2" y="393.2" class="num">1</text><text x="278.2" y="416" class="num">0</text></g>
<g><path d="M20.2,527.9 H90.6" stroke="#333" stroke-width="1.5"/><path d="M20.2,554.4 H90" stroke="#ff0000" stroke-width="1.2" stroke-dasharray="4.3 2.7"/><text x="106.7" y="534.6" class="leg" style="font-size:26.5px" textLength="95.2" lengthAdjust="spacing">fermions</text><path d="M218.7,515.5 Q204.9,528 218.7,540.5 Q208.7,528 218.7,515.5 Z" fill="#222" stroke="#222" stroke-width="0.5" stroke-linejoin="round"/><text x="221.6" y="534.6" class="leg it" textLength="19.4" lengthAdjust="spacingAndGlyphs" style="fill:#333">N</text><path d="M245.9,541.2 V528.6 M241.2,533.4 Q244.9,531.6 245.9,528.2 Q246.9,531.6 250.6,533.4" stroke="#222" stroke-width="1.0" fill="none" stroke-linejoin="round" stroke-linecap="round"/><path d="M260.8,526.5 H279.6 M260.8,530.7 H279.6" stroke="#222" stroke-width="1.15" fill="none"/><text x="281.0" y="534.6" class="leg">3</text><path d="M293.9,515.5 Q307.7,528 293.9,540.5 Q303.9,528 293.9,515.5 Z" fill="#222" stroke="#222" stroke-width="0.5" stroke-linejoin="round"/><text x="107.9" y="560.8" class="leg" style="font-size:26.5px" textLength="74.6" lengthAdjust="spacing">bosons</text><path d="M199,541.4 Q185.6,553.9 199,566.4 Q189.4,553.9 199,541.4 Z" fill="#222" stroke="#222" stroke-width="0.5" stroke-linejoin="round"/><text x="200.8" y="560.8" class="leg it" textLength="19.4" lengthAdjust="spacingAndGlyphs" style="fill:#333">N</text><text x="222.4" y="564.4" class="leg it" style="font-size:17.6px">b</text><path d="M239.6,552.6 H257.8 M239.6,556.9 H257.8" stroke="#222" stroke-width="1.15" fill="none"/><text x="259.0" y="560.8" class="leg">2</text><path d="M272.7,541.4 Q286.5,553.9 272.7,566.4 Q282.7,553.9 272.7,541.4 Z" fill="#222" stroke="#222" stroke-width="0.5" stroke-linejoin="round"/></g></svg></body></html>
